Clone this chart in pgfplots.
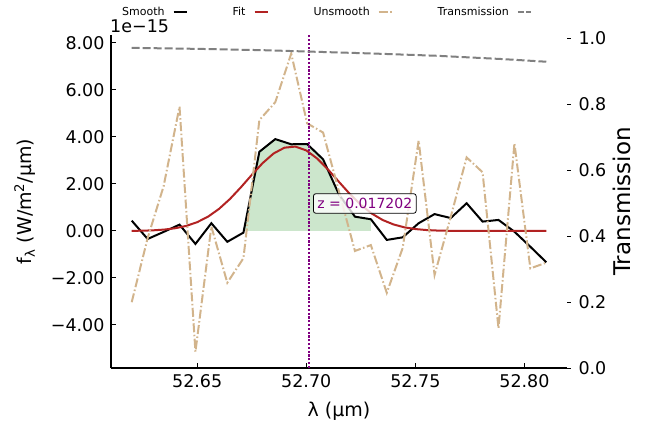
\documentclass[border=0pt]{standalone}
\usepackage{fontspec}
\setmainfont{DejaVu Sans}
\usepackage{pgfplots}
\pgfplotsset{compat=1.18}
\definecolor{tanc}{HTML}{D2B48C}
\definecolor{firebrick}{HTML}{B22222}
\definecolor{grayc}{HTML}{808080}
\definecolor{purp}{HTML}{800080}
\definecolor{fillg}{RGB}{204,230,204}

\pgfplotstableread{
x y
52.6200 0.44
52.6273 -0.34
52.6346 -0.04
52.6419 0.27
52.6492 -0.55
52.6565 0.33
52.6638 -0.46
52.6712 -0.07
52.6785 3.37
52.6858 3.91
52.6931 3.69
52.7004 3.70
52.7077 3.05
52.7150 1.55
52.7223 0.61
52.7296 0.50
52.7369 -0.38
52.7442 -0.27
52.7515 0.33
52.7588 0.72
52.7662 0.55
52.7735 1.18
52.7808 0.40
52.7881 0.47
52.7954 -0.03
52.8027 -0.67
52.8100 -1.33
}\smoothtab

\pgfplotstableread{
x y
52.6200 -3.03
52.6273 -0.30
52.6346 1.90
52.6419 5.29
52.6492 -5.14
52.6565 0.19
52.6638 -2.20
52.6712 -1.16
52.6785 4.72
52.6858 5.48
52.6931 7.55
52.7004 4.58
52.7077 4.19
52.7150 1.68
52.7223 -0.85
52.7296 -0.60
52.7369 -2.63
52.7442 -0.72
52.7515 3.85
52.7588 -1.87
52.7662 0.60
52.7735 3.13
52.7808 2.50
52.7881 -4.14
52.7954 3.73
52.8027 -1.59
52.8100 -1.35
}\unsmoothtab

\pgfplotstableread{
x y
52.620 0.006
52.625 0.013
52.630 0.029
52.635 0.061
52.640 0.118
52.645 0.217
52.650 0.375
52.655 0.611
52.660 0.940
52.665 1.360
52.670 1.856
52.675 2.385
52.680 2.889
52.685 3.297
52.690 3.545
52.695 3.592
52.700 3.429
52.705 3.084
52.710 2.614
52.715 2.088
52.720 1.571
52.725 1.114
52.730 0.744
52.735 0.468
52.740 0.278
52.745 0.155
52.750 0.082
52.755 0.041
52.760 0.019
52.765 0.008
52.770 0.003
52.775 0.001
52.780 0.000
52.790 0.000
52.800 0.000
52.810 0.000
}\fittab

\pgfplotstableread{
x y
52.62 0.970
52.65 0.967
52.68 0.963
52.70 0.959
52.73 0.953
52.76 0.946
52.79 0.936
52.81 0.928
}\transtab

\begin{document}
\begin{tikzpicture}
\useasboundingbox (0,0) rectangle (647bp,428bp);
\begin{axis}[
  at={(111bp,60bp)}, anchor=south west,
  scale only axis, width=456bp, height=333bp,
  xmin=52.6105, xmax=52.8195, ymin=-5.83, ymax=8.34,
  axis x line=bottom, axis y line=left,
  axis line style={line width=2.4bp, -},
  tick align=inside, major tick length=5bp,
  tick style={line width=1bp, black},
  xtick={52.65,52.70,52.75,52.80}, xticklabels={52.65,52.70,52.75,52.80},
  ytick={-4,-2,0,2,4,6,8}, yticklabels={−4.00,−2.00,0.00,2.00,4.00,6.00,8.00},
  ticklabel style={font=\fontsize{17.5bp}{21bp}\selectfont},
  xticklabel style={yshift=-2.5bp},
  yticklabel style={xshift=-3bp},
  every axis x label/.style={at={(axis description cs:0.5,-0.13)}, anchor=center, font=\fontsize{19bp}{23bp}\selectfont},
  every axis y label/.style={at={(axis description cs:-0.1886,0.5)}, rotate=90, anchor=center, font=\fontsize{19bp}{23bp}\selectfont},
  xlabel={λ (µm)}, ylabel={f\textsubscript{λ} (W/m\textsuperscript{2}/µm)},
  legend style={at={(axis description cs:0.0175,1.069)}, anchor=west, draw=none, fill=none,
    font=\fontsize{11bp}{13bp}\selectfont, legend columns=4,
    /tikz/every even column/.append style={column sep=45bp},
    /tikz/every odd column/.append style={column sep=8bp},
    nodes={inner sep=0pt}},
  legend plot pos=right,
  legend image code/.code={\draw[#1] (0bp,0bp) -- (13bp,0bp);},
]
\addplot[draw=none, fill=fillg, forget plot] coordinates {
(52.6712,-0.07) (52.6785,3.37) (52.6858,3.91) (52.6931,3.69) (52.7004,3.70)
(52.7077,3.05) (52.7150,1.55) (52.7223,0.61) (52.7296,0.50)} \closedcycle;
\addplot[black, line width=2bp] table {\smoothtab};
\addlegendentry{Smooth}
\addplot[firebrick, line width=2bp] table {\fittab};
\addlegendentry{Fit}
\addplot[tanc, line width=2bp, dash pattern=on 9bp off 2.5bp on 1.5bp off 2.5bp] table {\unsmoothtab};
\addlegendentry{Unsmooth}
\addlegendimage{grayc, line width=2bp, dash pattern=on 6bp off 2.5bp}
\addlegendentry{Transmission}
\addplot[draw=purp, line width=1.9bp, dash pattern=on 2.2bp off 1.6bp, forget plot] coordinates {(52.7014,-5.83) (52.7014,8.34)};
\end{axis}
\begin{axis}[
  at={(111bp,60bp)}, anchor=south west,
  scale only axis, width=456bp, height=333bp,
  xmin=52.6105, xmax=52.8195, ymin=0, ymax=1.009,
  axis x line=none, axis y line=right,
  y axis line style={draw=none},
  ytick={0,0.2,0.4,0.6,0.8,1.0}, yticklabels={0.0,0.2,0.4,0.6,0.8,1.0},
  tick align=outside, major tick length=3.5bp,
  y tick style={line width=0.8bp, black},
  ticklabel style={font=\fontsize{17.5bp}{21bp}\selectfont},
  yticklabel style={xshift=4.5bp},
  every axis y label/.style={at={(axis description cs:1.1206,0.5)}, rotate=90, anchor=center, font=\fontsize{23bp}{27bp}\selectfont},
  ylabel={Transmission},
]
\addplot[grayc, line width=2bp, dash pattern=on 8bp off 3bp] table {\transtab};
\end{axis}
\node[anchor=west, draw=black, line width=0.8bp, fill=white, fill opacity=0.8, text opacity=1, text=purp, rounded corners=2.5bp, inner xsep=4bp, inner ysep=4.5bp, font=\fontsize{14bp}{16bp}\selectfont] at (313bp,224.5bp) {z = 0.017202};
\node[anchor=base west, inner sep=0pt, font=\fontsize{17.5bp}{21bp}\selectfont] at (110bp,395bp) {1e−15};
\end{tikzpicture}
\end{document}
